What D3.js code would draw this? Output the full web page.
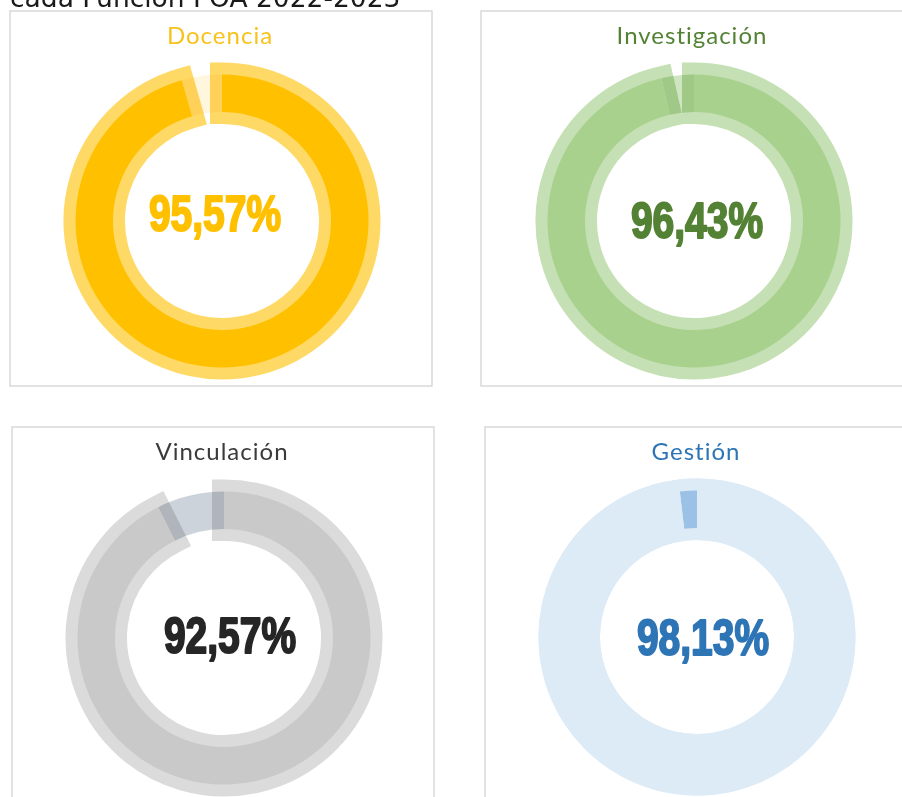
<!DOCTYPE html>
<html>
<head>
<meta charset="utf-8">
<script src="https://cdn.jsdelivr.net/npm/d3@7"></script>
<style>
  body { margin: 0; background: #fff; }
  svg { display: block; }
</style>
</head>
<body>
<div id="graf"></div>
<script>
// Datos: porcentaje de cumplimiento por funcion
funciones    = ['Docencia', 'Investigación', 'Vinculación', 'Gestión']
cumplimiento = [95.57, 96.43, 92.57, 98.13]
restante     = [4.43, 3.57, 7.43, 1.87]

// Colores de cada grafica
colorRelleno = ['#FFC000', '#A9D18E', '#C9C9C9', '#DDEBF7']
colorHalo    = ['#FFD966', '#C5E0B4', '#DBDBDB', '#DDEBF7']
colorResto   = ['#FFF6DE', '#CFE4C0', '#CDD3DB', '#B3D2EE']
colorPista   = [null, null, null, '#DDEBF7']
colorTexto   = ['#FFC000', '#548235', '#262626', '#2E75B6']
colorTitulo  = ['#F7C21C', '#548235', '#3B3B3B', '#2E75B6']

// Ubicacion de los paneles (cx, cy centro de la dona, dx, dy ajuste del numero)
paneles = [
  { x: 10,  y: 11,  w: 422, h: 375, cx: 222, cy: 221, dx: -7, dy: -8 },
  { x: 481, y: 11,  w: 424, h: 375, cx: 694, cy: 221, dx: 3,  dy: -1 },
  { x: 12,  y: 427, w: 422, h: 380, cx: 224, cy: 638, dx: 6,  dy: -3 },
  { x: 485, y: 427, w: 424, h: 380, cx: 697, cy: 637, dx: 6,  dy: 0 }
]

anchoTotal = 902
altoTotal  = 797

svg = d3.select('#graf').append('svg')
        .attr('width', anchoTotal)
        .attr('height', altoTotal)

// Titulo general (cortado arriba en la imagen)
svg.append('text')
   .attr('x', 10).attr('y', 7)
   .attr('font-family', 'DejaVu Sans, sans-serif')
   .attr('font-size', 26.5)
   .attr('fill', '#1a1a1a')
   .text('cada Función POA 2022-2023')

// Radios de la dona
rInt = 97
rExt = 158.5
halo = 12

pie = d3.pie().sort(null).value(d => d)

arcPista   = d3.arc().innerRadius(rInt).outerRadius(rExt)
arcRelleno = d3.arc().innerRadius(rInt + halo).outerRadius(rExt - halo)

formato = d3.formatLocale({ decimal: ',', thousands: '.', grouping: [3], currency: ['', ''] }).format('.2f')

funciones.forEach((f, i) => {
  p = paneles[i]
  trozos = pie([cumplimiento[i], restante[i]])

  // Marco del panel
  svg.append('rect')
     .attr('x', p.x).attr('y', p.y)
     .attr('width', p.w).attr('height', p.h)
     .attr('fill', 'none')
     .attr('stroke', '#d9d9d9')
     .attr('stroke-width', 1.5)

  // Titulo de la funcion
  svg.append('text')
     .attr('x', p.x + p.w / 2 - 1).attr('y', p.y + 33)
     .attr('text-anchor', 'middle')
     .attr('font-family', 'Lato, sans-serif')
     .attr('font-size', 24)
     .attr('letter-spacing', 1)
     .attr('fill', colorTitulo[i])
     .text(f)

  g = svg.append('g')
         .attr('transform', `translate(${ p.cx }, ${ p.cy })`)

  if (colorPista[i]) {
    g.append('path')
     .attr('d', arcPista({ startAngle: 0, endAngle: 2 * Math.PI }))
     .attr('fill', colorPista[i])
  }

  // Borde claro del trozo principal (detras)
  g.append('path')
   .attr('d', arcRelleno(trozos[0]))
   .attr('fill', colorHalo[i])
   .attr('stroke', colorHalo[i])
   .attr('stroke-width', 2 * halo)
   .attr('stroke-linejoin', 'miter')

  // Trozo restante
  g.append('path')
   .attr('d', arcRelleno(trozos[1]))
   .attr('fill', colorResto[i])
   .style('mix-blend-mode', 'multiply')

  // Trozo principal
  g.append('path')
   .attr('d', arcRelleno(trozos[0]))
   .attr('fill', colorRelleno[i])

  // Porcentaje al centro
  g.append('g')
   .attr('transform', `translate(${ p.dx }, ${ p.dy + 18 }) scale(0.78, 1)`)
   .append('text')
   .attr('text-anchor', 'middle')
   .attr('font-family', 'Liberation Sans, Arial, sans-serif')
   .attr('font-weight', 'bold')
   .attr('font-size', 50)
   .attr('fill', colorTexto[i])
   .attr('stroke', colorTexto[i])
   .attr('stroke-width', 2)
   .attr('stroke-linejoin', 'round')
   .text(formato(cumplimiento[i]) + '%')
})
</script>
</body>
</html>
